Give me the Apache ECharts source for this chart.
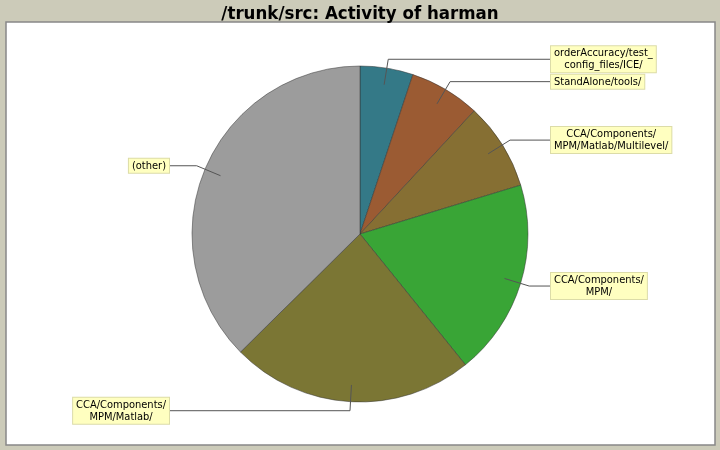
<!DOCTYPE html>
<html>
<head>
<meta charset="utf-8">
<script src="https://cdn.jsdelivr.net/npm/echarts@6/dist/echarts.min.js"></script>
<style>
  html, body { margin: 0; padding: 0; background: #cccbb9; }
  #chart { width: 720px; height: 450px; }
</style>
</head>
<body>
<div id="chart"></div>
<script>
// slices, clockwise from 12 o'clock
var categories = [
  'orderAccuracy/test_config_files/ICE/',
  'StandAlone/tools/',
  'CCA/Components/MPM/Matlab/Multilevel/',
  'CCA/Components/MPM/',
  'CCA/Components/MPM/Matlab/',
  '(other)'
];
var labelTexts = [
  'orderAccuracy/test_\nconfig_files/ICE/',
  'StandAlone/tools/',
  'CCA/Components/\nMPM/Matlab/Multilevel/',
  'CCA/Components/\nMPM/',
  'CCA/Components/\nMPM/Matlab/',
  '(other)'
];
var activity = [5.1, 6.8, 8.4, 18.9, 23.4, 37.4];
var colors = ['#347987', '#9b5b33', '#866f33', '#39a536', '#7b7634', '#9c9c9c'];

var cx = 360, cy = 234, R = 168;
var rightCol = 550, leftCol = 170;

var chart = echarts.init(document.getElementById('chart'));

var slices = [], ghosts = [];
for (var i = 0; i < categories.length; i++) {
  slices.push({ name: categories[i], value: activity[i], itemStyle: { color: colors[i] } });
  ghosts.push({ name: categories[i], value: activity[i] });
}

// line starts inside the slice, bends just past the rim, then runs flat to the label
function placeLabel(params) {
  var p0 = params.labelLinePoints[0];
  var nx = (p0[0] - cx) / R, ny = (p0[1] - cy) / R;
  var inner = [cx + nx * R * 0.9, cy + ny * R * 0.9];
  var elbow = [cx + nx * (R + 9), cy + ny * (R + 9)];
  var w = params.labelRect.width;
  var isLeft = nx < 0;
  var endX = isLeft ? leftCol : rightCol;
  return {
    x: isLeft ? endX - w / 2 : endX + w / 2,
    y: elbow[1],
    align: 'center',
    verticalAlign: 'middle',
    labelLinePoints: [inner, elbow, [endX, elbow[1]]]
  };
}

var option = {
  backgroundColor: '#cccbb9',
  animation: false,
  title: {
    text: '/trunk/src: Activity of harman',
    left: 'center',
    top: 0,
    textStyle: {
      fontFamily: 'DejaVu Sans Condensed',
      fontWeight: 'bold',
      fontSize: 18.5,
      color: '#000'
    }
  },
  graphic: [{
    type: 'rect',
    z: -1,
    shape: { x: 6, y: 22, width: 709, height: 423 },
    style: { fill: '#fff', stroke: '#888', lineWidth: 1.5 }
  }],
  series: [{
    // the coloured slices
    type: 'pie',
    z: 2,
    center: [cx, cy],
    radius: R,
    startAngle: 90,
    clockwise: true,
    data: slices,
    itemStyle: { borderColor: '#333', borderWidth: 0.5 },
    emphasis: { disabled: true },
    label: { show: false },
    labelLine: { show: false }
  }, {
    // same slices, invisible, carrying the labels so the lines sit on top
    type: 'pie',
    z: 3,
    silent: true,
    center: [cx, cy],
    radius: R,
    startAngle: 90,
    clockwise: true,
    data: ghosts,
    itemStyle: { color: 'rgba(0,0,0,0)', borderWidth: 0 },
    emphasis: { disabled: true },
    label: {
      position: 'outside',
      formatter: function (p) { return labelTexts[p.dataIndex]; },
      fontFamily: 'DejaVu Sans Condensed',
      fontSize: 11,
      lineHeight: 12,
      color: '#000',
      align: 'center',
      backgroundColor: '#ffffc0',
      borderColor: '#dcdca8',
      borderWidth: 1,
      padding: [1, 3, 1, 3]
    },
    labelLine: {
      show: true,
      length: 10,
      length2: 10,
      lineStyle: { color: '#555', width: 1 }
    },
    labelLayout: placeLabel
  }]
};
chart.setOption(option);
</script>
</body>
</html>
